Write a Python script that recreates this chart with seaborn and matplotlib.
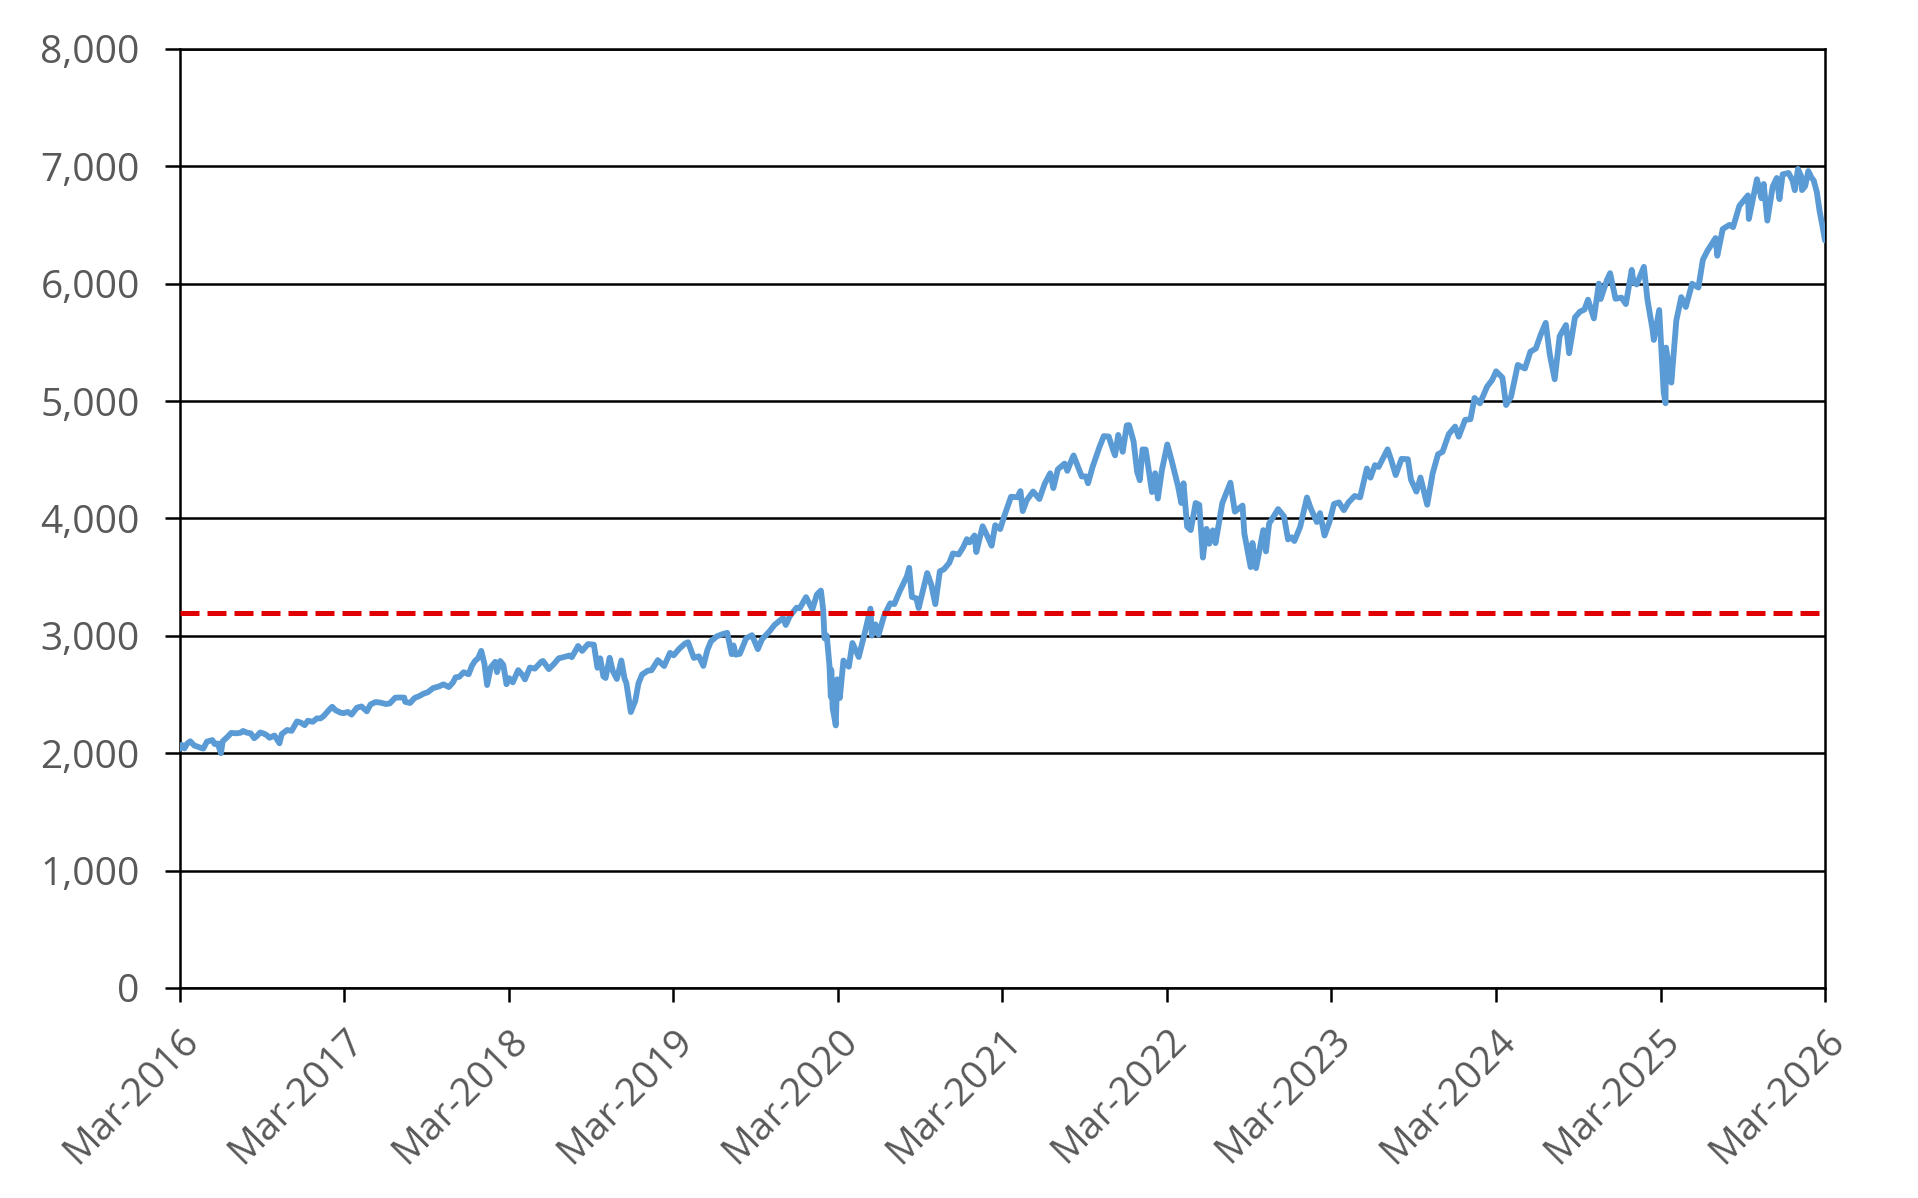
import pandas as pd
import numpy as np
import seaborn as sns
import matplotlib.pyplot as plt
import matplotlib.dates as mdates
from matplotlib.ticker import FuncFormatter

OUTPUT_FILE = "out.png"

# index level, a few points a month plus the swing points
dates = [
    # 2016
    "2016-03-28",
    "2016-04-01", "2016-04-07", "2016-04-13", "2016-04-20", "2016-04-29",
    "2016-05-06", "2016-05-13", "2016-05-19", "2016-05-27",
    "2016-06-08", "2016-06-13", "2016-06-20", "2016-06-24", "2016-06-27",
    "2016-07-01", "2016-07-11", "2016-07-20",
    "2016-08-01", "2016-08-10", "2016-08-15", "2016-08-24",
    "2016-09-01", "2016-09-09", "2016-09-15", "2016-09-22", "2016-09-30",
    "2016-10-07", "2016-10-13", "2016-10-24",
    "2016-11-04", "2016-11-09", "2016-11-21",
    "2016-12-01", "2016-12-13", "2016-12-22", "2016-12-30",
    # 2017
    "2017-01-06", "2017-01-17", "2017-01-26",
    "2017-02-03", "2017-02-10", "2017-02-21",
    "2017-03-01", "2017-03-09", "2017-03-21", "2017-03-27",
    "2017-04-05", "2017-04-13", "2017-04-25",
    "2017-05-05", "2017-05-17", "2017-05-25",
    "2017-06-05", "2017-06-15", "2017-06-29",
    "2017-07-07", "2017-07-19", "2017-07-27",
    "2017-08-08", "2017-08-10", "2017-08-21", "2017-08-31",
    "2017-09-11", "2017-09-20", "2017-09-29",
    "2017-10-11", "2017-10-24",
    "2017-11-03", "2017-11-15", "2017-11-24", "2017-11-30",
    "2017-12-08", "2017-12-18", "2017-12-29",
    # 2018
    "2018-01-05", "2018-01-12", "2018-01-19", "2018-01-26",
    "2018-02-02", "2018-02-08", "2018-02-16", "2018-02-26",
    "2018-03-02", "2018-03-09", "2018-03-16", "2018-03-23", "2018-03-29",
    "2018-04-06", "2018-04-18", "2018-04-27",
    "2018-05-03", "2018-05-14", "2018-05-25",
    "2018-06-08", "2018-06-12", "2018-06-25",
    "2018-07-06", "2018-07-17", "2018-07-27",
    "2018-08-10", "2018-08-15", "2018-08-29",
    "2018-09-07", "2018-09-20",
    "2018-10-03", "2018-10-11", "2018-10-17", "2018-10-24", "2018-10-29",
    "2018-11-07", "2018-11-14", "2018-11-23",
    "2018-12-03", "2018-12-10", "2018-12-14", "2018-12-24",
    # 2019
    "2019-01-03", "2019-01-10", "2019-01-18", "2019-01-31",
    "2019-02-08", "2019-02-22",
    "2019-03-08", "2019-03-21", "2019-03-29",
    "2019-04-10", "2019-04-23", "2019-04-30",
    "2019-05-13", "2019-05-24",
    "2019-06-03", "2019-06-12", "2019-06-20",
    "2019-07-03", "2019-07-15", "2019-07-26",
    "2019-08-05", "2019-08-09", "2019-08-14", "2019-08-23",
    "2019-09-06", "2019-09-19",
    "2019-10-02", "2019-10-11", "2019-10-28",
    "2019-11-08", "2019-11-27",
    "2019-12-03", "2019-12-12", "2019-12-27",
    # 2020
    "2020-01-03", "2020-01-17", "2020-01-31",
    "2020-02-10", "2020-02-19", "2020-02-24", "2020-02-27",
    "2020-03-03", "2020-03-09", "2020-03-12", "2020-03-13", "2020-03-16", "2020-03-23", "2020-03-26",
    "2020-04-01", "2020-04-09", "2020-04-21", "2020-04-29",
    "2020-05-13", "2020-05-27",
    "2020-06-08", "2020-06-11", "2020-06-19", "2020-06-26",
    "2020-07-08", "2020-07-22", "2020-07-31",
    "2020-08-12", "2020-08-28",
    "2020-09-02", "2020-09-08", "2020-09-18", "2020-09-23",
    "2020-10-12", "2020-10-21", "2020-10-30",
    "2020-11-09", "2020-11-18", "2020-11-30",
    "2020-12-08", "2020-12-21", "2020-12-31",
    # 2021
    "2021-01-08", "2021-01-14", "2021-01-25", "2021-01-29",
    "2021-02-12", "2021-02-25",
    "2021-03-04", "2021-03-12", "2021-03-23",
    "2021-04-01", "2021-04-16", "2021-04-30",
    "2021-05-07", "2021-05-12", "2021-05-21",
    "2021-06-04", "2021-06-18", "2021-06-30",
    "2021-07-12", "2021-07-19", "2021-07-29",
    "2021-08-13", "2021-08-19", "2021-08-31",
    "2021-09-02", "2021-09-20", "2021-09-29",
    "2021-10-04", "2021-10-14", "2021-10-29",
    "2021-11-08", "2021-11-19", "2021-11-30",
    "2021-12-03", "2021-12-10", "2021-12-20", "2021-12-29",
    # 2022
    "2022-01-03", "2022-01-13", "2022-01-21", "2022-01-27",
    "2022-02-02", "2022-02-09", "2022-02-23",
    "2022-03-02", "2022-03-08", "2022-03-17", "2022-03-29",
    "2022-04-08", "2022-04-22", "2022-04-29",
    "2022-05-04", "2022-05-12", "2022-05-20", "2022-05-31",
    "2022-06-08", "2022-06-16", "2022-06-24", "2022-06-30",
    "2022-07-08", "2022-07-14", "2022-07-29",
    "2022-08-16", "2022-08-26",
    "2022-09-12", "2022-09-16", "2022-09-30",
    "2022-10-04", "2022-10-12", "2022-10-28",
    "2022-11-03", "2022-11-10", "2022-11-30",
    "2022-12-13", "2022-12-22", "2022-12-30",
    # 2023
    "2023-01-05", "2023-01-18",
    "2023-02-02", "2023-02-10", "2023-02-24",
    "2023-03-03", "2023-03-13", "2023-03-24",
    "2023-04-03", "2023-04-14", "2023-04-25",
    "2023-05-05", "2023-05-19", "2023-05-31",
    "2023-06-15", "2023-06-23",
    "2023-07-03", "2023-07-11", "2023-07-31",
    "2023-08-08", "2023-08-18", "2023-08-31",
    "2023-09-14", "2023-09-21",
    "2023-10-03", "2023-10-12", "2023-10-27",
    "2023-11-08", "2023-11-20", "2023-11-30",
    "2023-12-14", "2023-12-28",
    # 2024
    "2024-01-05", "2024-01-19", "2024-01-31",
    "2024-02-09", "2024-02-21",
    "2024-03-08", "2024-03-19", "2024-03-28",
    "2024-04-11", "2024-04-19", "2024-04-30",
    "2024-05-15", "2024-05-31",
    "2024-06-12", "2024-06-24",
    "2024-07-05", "2024-07-16", "2024-07-25",
    "2024-08-05", "2024-08-16", "2024-08-30",
    "2024-09-06", "2024-09-19", "2024-09-30",
    "2024-10-10", "2024-10-18", "2024-10-31",
    "2024-11-11", "2024-11-15", "2024-11-29",
    "2024-12-06", "2024-12-18", "2024-12-31",
    # 2025
    "2025-01-10", "2025-01-23", "2025-01-27",
    "2025-02-03", "2025-02-19", "2025-02-27",
    "2025-03-10", "2025-03-13", "2025-03-25",
    "2025-04-04", "2025-04-08", "2025-04-09", "2025-04-21",
    "2025-05-02", "2025-05-13", "2025-05-23",
    "2025-06-06", "2025-06-20", "2025-06-30",
    "2025-07-10", "2025-07-28",
    "2025-08-01", "2025-08-13", "2025-08-28",
    "2025-09-05", "2025-09-19",
    "2025-10-08", "2025-10-10", "2025-10-28",
    "2025-11-07", "2025-11-12", "2025-11-20",
    "2025-12-02", "2025-12-11", "2025-12-17", "2025-12-24",
    # 2026
    "2026-01-06", "2026-01-15", "2026-01-20", "2026-01-27",
    "2026-02-03", "2026-02-05", "2026-02-12", "2026-02-19", "2026-02-26",
    "2026-03-03", "2026-03-10", "2026-03-16", "2026-03-23", "2026-03-28",
]

values = [
    # 2016
    2037,
    2072, 2041, 2082, 2102, 2065,
    2057, 2046, 2040, 2099,
    2112, 2079, 2083, 2037, 2000,
    2102, 2137, 2173,
    2170, 2175, 2190, 2175,
    2170, 2128, 2147, 2177, 2168,
    2153, 2132, 2151,
    2085, 2163, 2198,
    2191, 2271, 2260, 2239,
    # 2017
    2277, 2268, 2297,
    2297, 2316, 2365,
    2396, 2365, 2344, 2342,
    2352, 2329, 2388,
    2399, 2357, 2415,
    2436, 2432, 2419,
    2425, 2473, 2475,
    2474, 2438, 2428, 2471,
    2488, 2508, 2519,
    2555, 2569,
    2587, 2564, 2602, 2647,
    2651, 2690, 2673,
    # 2018
    2743, 2786, 2810, 2872,
    2762, 2581, 2732, 2779,
    2691, 2786, 2752, 2588, 2640,
    2604, 2708, 2669,
    2629, 2730, 2721,
    2779, 2786, 2717,
    2759, 2809, 2818,
    2833, 2818, 2914,
    2872, 2930,
    2925, 2728, 2809, 2656, 2641,
    2813, 2701, 2633,
    2790, 2637, 2600, 2351,
    # 2019
    2448, 2596, 2671, 2704,
    2707, 2793,
    2743, 2855, 2834,
    2888, 2934, 2946,
    2812, 2826,
    2744, 2880, 2954,
    2996, 3014, 3026,
    2844, 2919, 2840, 2847,
    2979, 3006,
    2887, 2970, 3039,
    3093, 3153,
    3093, 3168, 3240,
    # 2020
    3235, 3330, 3225,
    3352, 3386, 3225, 2979,
    3003, 2746, 2481, 2711, 2386, 2237, 2630,
    2471, 2790, 2737, 2939,
    2820, 3036,
    3232, 3002, 3098, 3009,
    3170, 3277, 3271,
    3380, 3508,
    3580, 3332, 3319, 3237,
    3535, 3436, 3270,
    3550, 3567, 3622,
    3702, 3694, 3756,
    # 2021
    3824, 3796, 3855, 3714,
    3934, 3829,
    3768, 3943, 3910,
    4020, 4185, 4181,
    4233, 4063, 4156,
    4230, 4166, 4298,
    4385, 4259, 4419,
    4468, 4406, 4523,
    4537, 4358, 4359,
    4300, 4438, 4605,
    4702, 4698, 4567,
    4538, 4712, 4568, 4793,
    # 2022
    4796, 4659, 4398, 4326,
    4589, 4587, 4225,
    4386, 4170, 4412, 4631,
    4488, 4272, 4132,
    4300, 3930, 3901, 4132,
    4116, 3667, 3912, 3785,
    3899, 3790, 4130,
    4305, 4058,
    4110, 3873, 3586,
    3791, 3577, 3901,
    3720, 3956, 4080,
    4019, 3822, 3840,
    # 2023
    3808, 3929,
    4179, 4090, 3970,
    4046, 3855, 3971,
    4124, 4137, 4071,
    4136, 4192, 4180,
    4426, 4348,
    4455, 4439, 4589,
    4499, 4370, 4508,
    4505, 4330,
    4229, 4349, 4117,
    4383, 4547, 4568,
    4720, 4783,
    # 2024
    4697, 4840, 4846,
    5027, 4981,
    5124, 5179, 5254,
    5200, 4967, 5036,
    5308, 5278,
    5421, 5448,
    5567, 5667, 5399,
    5186, 5554, 5648,
    5408, 5713, 5762,
    5780, 5864, 5705,
    6001, 5870, 6032,
    6090, 5872, 5882,
    # 2025
    5827, 6118, 6012,
    5994, 6144, 5862,
    5614, 5521, 5776,
    5074, 4982, 5456, 5158,
    5687, 5886, 5802,
    6000, 5968, 6205,
    6280, 6389,
    6238, 6466, 6502,
    6482, 6664,
    6753, 6552, 6890,
    6728, 6850, 6538,
    6829, 6901, 6721, 6932,
    # 2026
    6944, 6880, 6797, 6978,
    6917, 6798, 6832, 6960, 6905,
    6880, 6780, 6620, 6480, 6370,
]

threshold = 3195
y_ticks = [0, 1000, 2000, 3000, 4000, 5000, 6000, 7000, 8000]
x_tick_dates = ["2016-03-28", "2017-03-28", "2018-03-28", "2019-03-28", "2020-03-28",
                "2021-03-28", "2022-03-28", "2023-03-28", "2024-03-28", "2025-03-28",
                "2026-03-28"]

LINE_BLUE = "#5B9BD5"
DASH_RED = "#E00000"
LABEL_GREY = "#595959"


def main():
    assert len(dates) == len(values), (len(dates), len(values))
    df = pd.DataFrame({"Date": pd.to_datetime(dates), "Value": values})

    sns.set_style("white")
    plt.rcParams["font.family"] = ["Open Sans", "DejaVu Sans"]

    fig = plt.figure(figsize=(19.18, 11.98), dpi=100)
    ax = fig.add_axes([0.0938, 0.1753, 0.8577, 0.7838])

    # black horizontal gridlines, under the series
    for y in y_ticks:
        ax.axhline(y, color="black", lw=1.8, zorder=1)

    sns.lineplot(data=df, x="Date", y="Value", color=LINE_BLUE, lw=4.2,
                 ax=ax, zorder=3)
    ax.axhline(threshold, color=DASH_RED, lw=3.6, dashes=(3.8, 1.6), zorder=4)

    ax.set_xlim(pd.Timestamp(x_tick_dates[0]), pd.Timestamp(x_tick_dates[-1]))
    ax.set_ylim(0, 8000)
    ax.set_yticks(y_ticks)
    ax.yaxis.set_major_formatter(FuncFormatter(lambda v, p: f"{int(v):,}"))
    ax.set_xticks(pd.to_datetime(x_tick_dates))
    ax.xaxis.set_major_formatter(mdates.DateFormatter("%b-%Y"))
    ax.set_xlabel("")
    ax.set_ylabel("")

    for side in ["left", "bottom", "right", "top"]:
        ax.spines[side].set_visible(True)
        ax.spines[side].set_color("black")
        ax.spines[side].set_linewidth(1.8)

    ax.tick_params(axis="y", which="major", direction="out", length=11, width=1.8,
                   color="black", labelsize=28, labelcolor=LABEL_GREY, pad=18, left=True)
    ax.tick_params(axis="x", which="major", direction="out", length=10, width=1.8,
                   color="black", labelsize=28, labelcolor=LABEL_GREY, pad=14, bottom=True)
    for lbl in ax.get_xticklabels():
        lbl.set_rotation(45)
        lbl.set_ha("right")
        lbl.set_va("top")
        lbl.set_rotation_mode("anchor")

    fig.savefig(OUTPUT_FILE, dpi=100)


if __name__ == "__main__":
    main()
